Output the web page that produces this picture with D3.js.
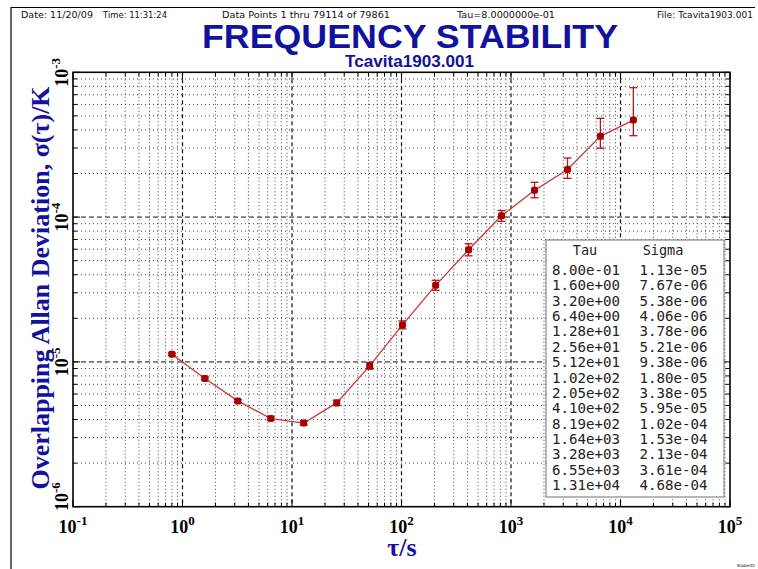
<!DOCTYPE html>
<html>
<head>
<meta charset="utf-8">
<script src="https://cdn.jsdelivr.net/npm/d3@7"></script>
<style>
  html, body { margin: 0; padding: 0; background: #fff; }
  svg { display: block; }
</style>
</head>
<body>
<svg id="chart" width="758" height="569"></svg>
<script>
// Table values (also the plotted points)
const tauLabels = ['8.00e-01', '1.60e+00', '3.20e+00', '6.40e+00', '1.28e+01', '2.56e+01', '5.12e+01',
  '1.02e+02', '2.05e+02', '4.10e+02', '8.19e+02', '1.64e+03', '3.28e+03', '6.55e+03', '1.31e+04'];
const sigmaLabels = ['1.13e-05', '7.67e-06', '5.38e-06', '4.06e-06', '3.78e-06', '5.21e-06', '9.38e-06',
  '1.80e-05', '3.38e-05', '5.95e-05', '1.02e-04', '1.53e-04', '2.13e-04', '3.61e-04', '4.68e-04'];
// error bar bounds
const sigmaLow = [1.11e-5, 7.5e-6, 5.25e-6, 3.95e-6, 3.65e-6, 5.0e-6, 8.9e-6,
  1.69e-5, 3.12e-5, 5.4e-5, 9.35e-5, 1.36e-4, 1.85e-4, 2.99e-4, 3.65e-4];
const sigmaHigh = [1.15e-5, 7.85e-6, 5.5e-6, 4.17e-6, 3.92e-6, 5.45e-6, 9.9e-6,
  1.92e-5, 3.66e-5, 6.55e-5, 1.11e-4, 1.74e-4, 2.56e-4, 4.81e-4, 7.83e-4];
const xTickExps = [-1, 0, 1, 2, 3, 4, 5];
const yTickExps = [-6, -5, -4, -3];

const headerTexts = [
  { text: 'Date: 11/20/09', x: 21, len: 72 },
  { text: 'Time: 11:31:24', x: 103, len: 64 },
  { text: 'Data Points 1 thru 79114 of 79861', x: 222, len: 168 },
  { text: 'Tau=8.0000000e-01', x: 457, len: 98 },
  { text: 'File: Tcavita1903.001', x: 657, len: 96 }
];

const blue = '#12129e';
const W = 758, H = 569;
const plot = { left: 73, top: 72.3, right: 730, bottom: 506.7 };

const svg = d3.select('#chart');

const data = tauLabels.map((t, i) => ({
  tau: +t, sigma: +sigmaLabels[i], lo: sigmaLow[i], hi: sigmaHigh[i]
}));

const x = d3.scaleLog().domain([1e-1, 1e5]).range([plot.left, plot.right]);
const y = d3.scaleLog().domain([1e-6, 1e-3]).range([plot.bottom, plot.top]);

// outer frame (top + left only)
svg.append('path')
  .attr('d', `M11,569 L11,7.5 L755,7.5`)
  .attr('fill', 'none').attr('stroke', '#000').attr('stroke-width', 1.2);

// header line
headerTexts.forEach(h => {
  svg.append('text')
    .attr('x', h.x).attr('y', 18)
    .attr('font-family', 'DejaVu Sans, sans-serif')
    .attr('font-size', 8.5)
    .attr('textLength', h.len)
    .attr('lengthAdjust', 'spacingAndGlyphs')
    .attr('fill', '#111')
    .text(h.text);
});

// title
svg.append('text')
  .attr('x', 202).attr('y', 48)
  .attr('font-family', 'Liberation Sans, Arial, sans-serif')
  .attr('font-weight', 'bold').attr('font-size', 34)
  .attr('textLength', 416).attr('lengthAdjust', 'spacingAndGlyphs')
  .attr('fill', blue)
  .text('FREQUENCY STABILITY');
svg.append('text')
  .attr('x', 345).attr('y', 66.5)
  .attr('font-family', 'Liberation Sans, Arial, sans-serif')
  .attr('font-weight', 'bold').attr('font-size', 17)
  .attr('textLength', 129).attr('lengthAdjust', 'spacingAndGlyphs')
  .attr('fill', blue)
  .text('Tcavita1903.001');

// grid
const isMajor = v => Math.abs(Math.log10(v) - Math.round(Math.log10(v))) < 1e-9;
const grid = svg.append('g');
const xTicks = x.ticks();
const yTicks = y.ticks();

grid.selectAll('line.vminor')
  .data(xTicks.filter(v => !isMajor(v)))
  .join('line')
  .attr('x1', d => x(d)).attr('x2', d => x(d))
  .attr('y1', plot.top).attr('y2', plot.bottom)
  .attr('stroke', '#444').attr('stroke-width', 1).attr('stroke-dasharray', '1,2.5');

grid.selectAll('line.hminor')
  .data(yTicks.filter(v => !isMajor(v)))
  .join('line')
  .attr('x1', plot.left).attr('x2', plot.right)
  .attr('y1', d => y(d)).attr('y2', d => y(d))
  .attr('stroke', '#444').attr('stroke-width', 1).attr('stroke-dasharray', '1,3');

grid.selectAll('line.vmajor')
  .data(xTicks.filter(v => isMajor(v) && v > 1e-1 && v < 1e5))
  .join('line')
  .attr('x1', d => x(d)).attr('x2', d => x(d))
  .attr('y1', plot.top).attr('y2', plot.bottom)
  .attr('stroke', '#111').attr('stroke-width', 1.2).attr('stroke-dasharray', '4,3');

grid.selectAll('line.hmajor')
  .data(yTicks.filter(v => isMajor(v) && v > 1e-6 && v < 1e-3))
  .join('line')
  .attr('x1', plot.left).attr('x2', plot.right)
  .attr('y1', d => y(d)).attr('y2', d => y(d))
  .attr('stroke', '#777').attr('stroke-width', 1.6).attr('stroke-dasharray', '5,3');

// inner ticks
const ticks = svg.append('g').attr('stroke', '#000').attr('stroke-width', 1);
xTicks.forEach(v => {
  const len = isMajor(v) ? 7 : 4;
  ticks.append('line').attr('x1', x(v)).attr('x2', x(v)).attr('y1', plot.bottom).attr('y2', plot.bottom - len);
  ticks.append('line').attr('x1', x(v)).attr('x2', x(v)).attr('y1', plot.top).attr('y2', plot.top + len);
});
yTicks.forEach(v => {
  const len = isMajor(v) ? 7 : 4;
  ticks.append('line').attr('y1', y(v)).attr('y2', y(v)).attr('x1', plot.left).attr('x2', plot.left + len);
  ticks.append('line').attr('y1', y(v)).attr('y2', y(v)).attr('x1', plot.right).attr('x2', plot.right - len);
});

// frame
svg.append('rect')
  .attr('x', plot.left).attr('y', plot.top)
  .attr('width', plot.right - plot.left).attr('height', plot.bottom - plot.top)
  .attr('fill', 'none').attr('stroke', '#000').attr('stroke-width', 1.6);

// tick labels
const serif = 'Liberation Serif, Times New Roman, serif';
xTickExps.forEach(e => {
  const t = svg.append('text')
    .attr('x', x(Math.pow(10, e))).attr('y', 533)
    .attr('text-anchor', 'middle')
    .attr('font-family', serif).attr('font-weight', 'bold').attr('font-size', 18)
    .attr('fill', '#000');
  t.append('tspan').text('10');
  t.append('tspan').attr('dy', -8).attr('font-size', 13).text(e < 0 ? '-' + (-e) : e);
});
yTickExps.forEach(e => {
  const shift = e === -6 ? -10 : 0;
  const t = svg.append('text')
    .attr('transform', `translate(68,${y(Math.pow(10, e)) + shift}) rotate(-90)`)
    .attr('text-anchor', 'middle')
    .attr('font-family', serif).attr('font-weight', 'bold').attr('font-size', 18)
    .attr('fill', '#000');
  t.append('tspan').text('10');
  t.append('tspan').attr('dy', -8).attr('font-size', 13).text(e < 0 ? '-' + (-e) : e);
});

// axis titles
svg.append('text')
  .attr('transform', 'translate(49,288) rotate(-90)')
  .attr('text-anchor', 'middle')
  .attr('font-family', serif).attr('font-weight', 'bold').attr('font-size', 26)
  .attr('fill', blue)
  .text('Overlapping Allan Deviation, σ(τ)/K');
svg.append('text')
  .attr('x', 402).attr('y', 556)
  .attr('text-anchor', 'middle')
  .attr('font-family', serif).attr('font-weight', 'bold').attr('font-size', 26)
  .attr('fill', blue)
  .text('τ/s');

// data line
svg.append('path')
  .datum(data)
  .attr('d', d3.line().x(d => x(d.tau)).y(d => y(d.sigma)))
  .attr('fill', 'none').attr('stroke', '#c83a3a').attr('stroke-width', 1.3);

// error bars
const eb = svg.append('g').attr('stroke', '#b01818').attr('stroke-width', 1.3);
data.forEach(d => {
  const cx = x(d.tau);
  eb.append('line').attr('x1', cx).attr('x2', cx).attr('y1', y(d.hi)).attr('y2', y(d.lo));
  eb.append('line').attr('x1', cx - 4).attr('x2', cx + 4).attr('y1', y(d.hi)).attr('y2', y(d.hi));
  eb.append('line').attr('x1', cx - 4).attr('x2', cx + 4).attr('y1', y(d.lo)).attr('y2', y(d.lo));
});

// markers
svg.append('g')
  .selectAll('rect')
  .data(data)
  .join('rect')
  .attr('x', d => x(d.tau) - 3.5).attr('y', d => y(d.sigma) - 3.5)
  .attr('width', 7).attr('height', 7).attr('rx', 2)
  .attr('fill', '#a80000');

// results table
const table = svg.append('g');
table.append('rect')
  .attr('x', 546).attr('y', 240).attr('width', 178).attr('height', 257)
  .attr('fill', '#fff').attr('stroke', '#888').attr('stroke-width', 1.2);
const mono = 'DejaVu Sans Mono, monospace';
table.append('text').attr('x', 585).attr('y', 255).attr('text-anchor', 'middle')
  .attr('font-family', mono).attr('font-size', 13.5).attr('fill', '#222').text('Tau');
table.append('text').attr('x', 663).attr('y', 255).attr('text-anchor', 'middle')
  .attr('font-family', mono).attr('font-size', 13.5).attr('fill', '#222').text('Sigma');
tauLabels.forEach((t, i) => {
  const yy = 275 + i * 15.36;
  table.append('text').attr('x', 552).attr('y', yy)
    .attr('font-family', mono).attr('font-size', 13.5).attr('fill', '#222')
    .attr('textLength', 68).attr('lengthAdjust', 'spacingAndGlyphs').text(t);
  table.append('text').attr('x', 639.5).attr('y', yy)
    .attr('font-family', mono).attr('font-size', 13.5).attr('fill', '#222')
    .attr('textLength', 68).attr('lengthAdjust', 'spacingAndGlyphs').text(sigmaLabels[i]);
});

// tiny footer tag
svg.append('text')
  .attr('x', 737).attr('y', 567)
  .attr('font-family', 'DejaVu Sans, sans-serif').attr('font-size', 4)
  .attr('fill', '#000')
  .text('Stable32');
</script>
</body>
</html>
